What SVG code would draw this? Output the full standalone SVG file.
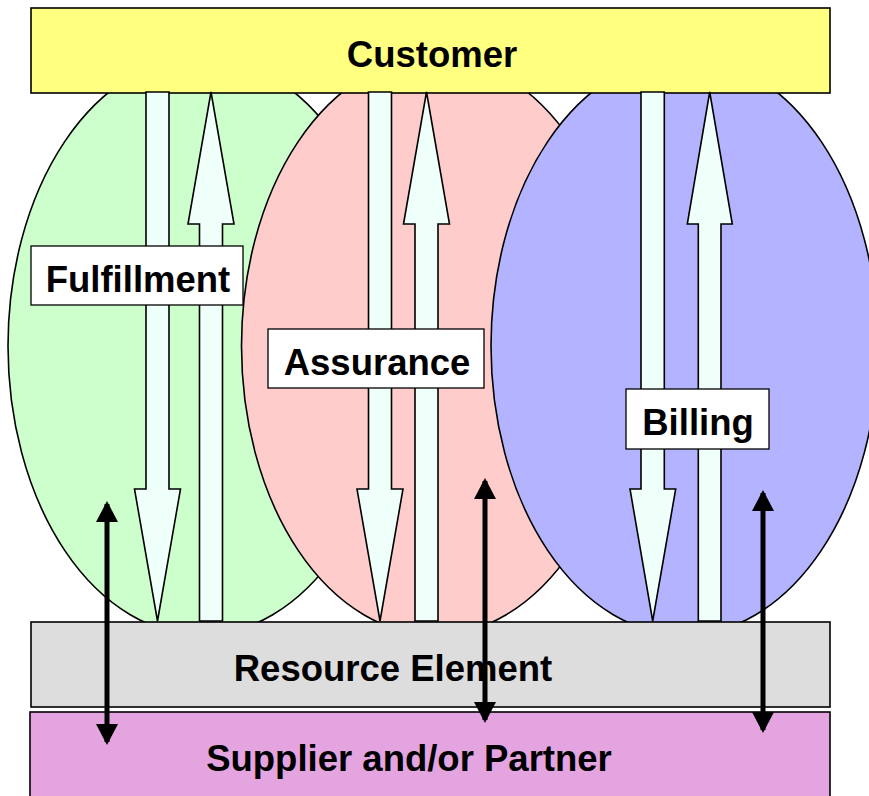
<svg xmlns="http://www.w3.org/2000/svg" width="869" height="796" viewBox="0 0 869 796">
<style>
.ol{stroke:#000;stroke-width:1.6}
.arr{fill:#EFFFFA;stroke:#000;stroke-width:1.6;stroke-linejoin:miter}
.lbl{fill:#fff;stroke:#000;stroke-width:1.3}
.t{font-family:"Liberation Sans",Arial,sans-serif;font-weight:bold;font-size:36.5px;fill:#000;text-anchor:middle}
.bi{stroke:#000;stroke-width:5;fill:none}
</style>
<defs>
<marker id="ah" markerUnits="userSpaceOnUse" markerWidth="22" markerHeight="22" viewBox="0 0 22 22" refX="18" refY="11" orient="auto-start-reverse">
<path d="M0,0 L21,11 L0,22 Z" fill="#000"/>
</marker>
</defs>
<rect width="869" height="796" fill="#fff"/>
<g id="fulfillment-area"><ellipse class="ol" cx="201.5" cy="346" rx="193.5" ry="289" fill="#CCFFCC"/></g>
<g id="assurance-area"><ellipse class="ol" cx="435" cy="346" rx="193.5" ry="289" fill="#FFCCCC"/></g>
<g id="billing-area"><ellipse class="ol" cx="684.5" cy="346" rx="193.5" ry="289" fill="#B3B3FF"/></g>
<g id="customer"><rect class="ol" x="31" y="8" width="799" height="85" fill="#FFFF80"/><text class="t" x="432" y="67">Customer</text></g>
<g id="resource-element"><rect class="ol" x="31" y="622" width="799" height="85" fill="#DDDDDD"/><text class="t" x="393" y="681">Resource Element</text></g>
<g id="supplier"><rect class="ol" x="30" y="712" width="800" height="90" fill="#E4A4E0"/><text class="t" x="409" y="771">Supplier and/or Partner</text></g>
<g id="connectors">
<polygon class="arr" points="146,92 169,92 169,489 180.5,489 157.5,621 134.5,489 146,489"/>
<polygon class="arr" points="211,92 234,224 222.5,224 222.5,621 199.5,621 199.5,224 188,224"/>
<polygon class="arr" points="368.5,92 391.5,92 391.5,489 403,489 380,621 357,489 368.5,489"/>
<polygon class="arr" points="426.5,92 449.5,224 438,224 438,621 415,621 415,224 403.5,224"/>
<polygon class="arr" points="641,92 664.3,92 664.3,489 675.7,489 652.7,621 630,489 641,489"/>
<polygon class="arr" points="709.7,92 732.3,224 721,224 721,621 698.3,621 698.3,224 687.3,224"/>
<line class="bi" x1="107" y1="504" x2="107" y2="742" marker-start="url(#ah)" marker-end="url(#ah)"/>
<line class="bi" x1="485" y1="481" x2="485" y2="720" marker-start="url(#ah)" marker-end="url(#ah)"/>
<line class="bi" x1="763" y1="493" x2="763" y2="730" marker-start="url(#ah)" marker-end="url(#ah)"/>
</g>
<g id="fulfillment-label"><rect class="lbl" x="31" y="246" width="212" height="59"/><text class="t" x="138" y="292">Fulfillment</text></g>
<g id="assurance-label"><rect class="lbl" x="268" y="329" width="216" height="59"/><text class="t" x="377" y="375">Assurance</text></g>
<g id="billing-label"><rect class="lbl" x="626" y="389" width="143" height="60"/><text class="t" x="698" y="435">Billing</text></g>
</svg>
